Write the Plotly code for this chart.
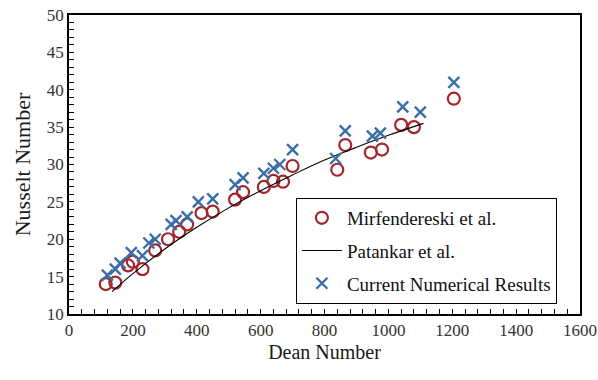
import plotly.graph_objects as go

# Mirfendereski et al. (open circles)
mir_dean = [115, 145, 185, 200, 230, 270, 310, 345, 370, 415, 450, 520, 545, 610, 640, 670, 700, 840, 865, 945, 980, 1040, 1080, 1205]
mir_nu = [14.0, 14.2, 16.5, 17.0, 16.0, 18.5, 20.0, 21.0, 22.0, 23.5, 23.7, 25.3, 26.3, 27.0, 27.8, 27.7, 29.8, 29.3, 32.6, 31.6, 32.0, 35.3, 35.0, 38.8]

# Patankar et al. (line)
pat_dean = [135, 200, 300, 400, 500, 600, 700, 800, 900, 1000, 1110]
pat_nu = [13.0, 15.4, 18.7, 21.6, 24.2, 26.5, 28.6, 30.6, 32.3, 33.9, 35.5]

# Current numerical results (crosses)
cur_dean = [120, 145, 160, 195, 230, 250, 270, 320, 335, 370, 405, 450, 520, 545, 610, 640, 660, 700, 835, 865, 950, 975, 1045, 1100, 1205]
cur_nu = [15.2, 16.0, 16.8, 18.2, 17.8, 19.5, 20.0, 22.0, 22.5, 23.0, 25.0, 25.4, 27.3, 28.2, 28.8, 29.5, 30.0, 32.0, 30.8, 34.5, 33.8, 34.2, 37.7, 37.0, 41.0]

x_ticks = [0, 200, 400, 600, 800, 1000, 1200, 1400, 1600]
y_ticks = [10, 15, 20, 25, 30, 35, 40, 45, 50]

SERIF = "Liberation Serif"

fig = go.Figure()
fig.add_trace(go.Scatter(
    x=mir_dean, y=mir_nu, mode="markers", name="Mirfendereski et al.",
    legendgroup="a",
    marker=dict(symbol="circle-open", size=12, color="#A3262C", line=dict(width=2.2, color="#A3262C")),
))
fig.add_trace(go.Scatter(
    x=pat_dean, y=pat_nu, mode="lines", name="Patankar et al.",
    legendgroup="b", line=dict(color="black", width=1.1, shape="spline"),
))
fig.add_trace(go.Scatter(
    x=cur_dean, y=cur_nu, mode="markers", name="Current Numerical Results",
    legendgroup="c",
    marker=dict(symbol="x-thin-open", size=11, color="#3A6EA8", line=dict(width=2.4, color="#3A6EA8")),
))

axis_common = dict(
    showgrid=False, zeroline=False, showline=True, linecolor="black", linewidth=1.5,
    mirror=True, ticks="inside", ticklen=5, tickcolor="black", tickwidth=1,
    tickfont=dict(family=SERIF, size=17, color="#333333"),
    automargin=False, ticklabeloverflow="allow",
)

fig.update_xaxes(
    range=[0, 1600], tickvals=x_ticks, ticktext=[str(v) for v in x_ticks],
    minor=dict(dtick=40, tick0=0, ticks="inside", ticklen=5, tickcolor="black"),
    title=dict(text="Dean Number", font=dict(family=SERIF, size=20, color="#1a1a1a"), standoff=6),
    **axis_common,
)
fig.update_yaxes(
    range=[10, 50], tickvals=y_ticks, ticktext=[str(v) for v in y_ticks],
    minor=dict(dtick=1, tick0=0, ticks="inside", ticklen=5, tickcolor="black"),
    title=dict(text="Nusselt Number", font=dict(family=SERIF, size=22, color="#1a1a1a"), standoff=10),
    **axis_common,
)

fig.update_layout(
    width=598, height=380,
    margin=dict(l=69, r=18, t=15, b=66),
    paper_bgcolor="white", plot_bgcolor="white",
    legend=dict(
        x=0.444, y=0.388, xanchor="left", yanchor="top",
        bgcolor="white", bordercolor="black", borderwidth=1,
        font=dict(family=SERIF, size=19, color="#111111"),
        traceorder="grouped", tracegroupgap=5, itemwidth=40,
    ),
    showlegend=True,
)

fig.write_html(
    "out.html",
    config={"displayModeBar": False},
    post_script="document.body.style.margin='0';document.body.style.overflow='hidden';",
)
